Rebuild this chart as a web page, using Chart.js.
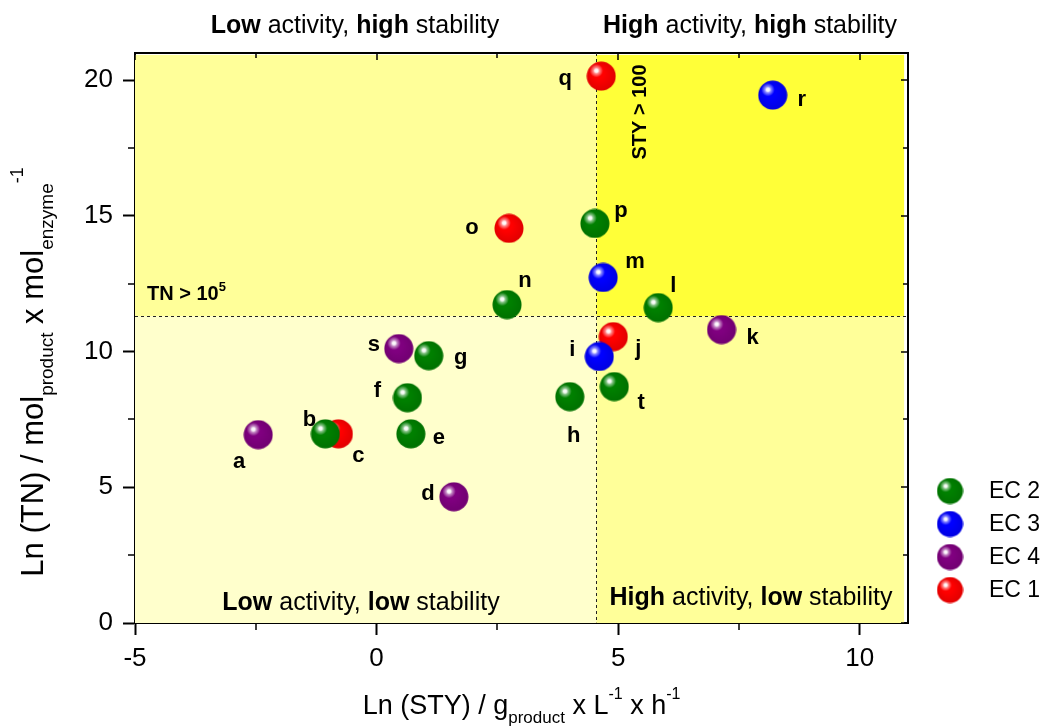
<!DOCTYPE html>
<html>
<head>
<meta charset="utf-8">
<script src="https://cdn.jsdelivr.net/npm/chart.js@4.4.1/dist/chart.umd.min.js"></script>
<style>
    html, body { margin: 0; padding: 0; background: #fff; }
    #wrap { width: 1055px; height: 727px; position: relative; }
</style>
</head>
<body>
<div id="wrap"><canvas id="myChart" width="1055" height="727"></canvas></div>
<script>
// points per enzyme class: letter, Ln(STY), Ln(TN)
const ec2Names = ['b', 'e', 'f', 'g', 'h', 'l', 'n', 'p', 't'];
const ec2X = [-1.06, 0.71, 0.64, 1.08, 4.00, 5.83, 2.70, 4.52, 4.92];
const ec2Y = [6.97, 6.97, 8.30, 9.85, 8.34, 11.62, 11.73, 14.72, 8.71];

const ec3Names = ['i', 'm', 'r'];
const ec3X = [4.61, 4.69, 8.20];
const ec3Y = [9.82, 12.73, 19.45];

const ec4Names = ['a', 'd', 'k', 's'];
const ec4X = [-2.45, 1.60, 7.14, 0.46];
const ec4Y = [6.94, 4.65, 10.81, 10.11];

const ec1Names = ['c', 'j', 'o', 'q'];
const ec1X = [-0.79, 4.90, 2.74, 4.65];
const ec1Y = [6.97, 10.55, 14.54, 20.15];

const seriesNames = ['EC 2', 'EC 3', 'EC 4', 'EC 1'];
const seriesColors = ['#008000', '#0000ff', '#800080', '#ff0000'];

const xTickValues = [-5, 0, 5, 10];
const yTickValues = [0, 5, 10, 15, 20];

// thresholds (ln scale): STY > 100, TN > 10^5
const stySplit = 4.55;
const tnSplit = 11.3;

// where each letter sits relative to its ball (px)
const letterOffset = {
    a: [-19, 27], b: [-16, -14], c: [20, 22], d: [-26, -3], e: [28, 4],
    f: [-30, -7], g: [32, 2], h: [4, 39], i: [-27, -7], j: [25, 12],
    k: [31, 8], l: [15, -22], m: [32, -16], n: [18, -24], o: [-37, 0],
    p: [26, -13], q: [-36, 3], r: [29, 5], s: [-25, -4], t: [27, 16]
};

const FONT = 'Arial, "Liberation Sans", sans-serif';

// shiny ball used as point style
function makeBall(color, d) {
    const c = document.createElement('canvas');
    c.width = d;
    c.height = d;
    const g = c.getContext('2d');
    const r = d / 2;
    g.beginPath();
    g.arc(r, r, r - 0.5, 0, Math.PI * 2);
    g.fillStyle = color;
    g.fill();
    const shade = g.createRadialGradient(r * 0.8, r * 0.8, r * 0.4, r, r, r);
    shade.addColorStop(0, 'rgba(0,0,0,0)');
    shade.addColorStop(1, 'rgba(0,0,0,0.12)');
    g.fillStyle = shade;
    g.fill();
    const hx = r * 0.68, hy = r * 0.64, hr = r * 0.45;
    const hl = g.createRadialGradient(hx, hy, 0, hx, hy, hr);
    hl.addColorStop(0, 'rgba(255,255,255,1)');
    hl.addColorStop(0.25, 'rgba(255,255,255,0.95)');
    hl.addColorStop(0.45, 'rgba(255,255,255,0.55)');
    hl.addColorStop(1, 'rgba(255,255,255,0)');
    g.fillStyle = hl;
    g.beginPath();
    g.arc(hx, hy, hr, 0, Math.PI * 2);
    g.fill();
    return c;
}

function makePoints(names, xs, ys) {
    return xs.map((x, i) => ({ x: x, y: ys[i], name: names[i] }));
}

const seriesPoints = [
    makePoints(ec2Names, ec2X, ec2Y),
    makePoints(ec3Names, ec3X, ec3Y),
    makePoints(ec4Names, ec4X, ec4Y),
    makePoints(ec1Names, ec1X, ec1Y)
];

const datasets = seriesNames.map((name, i) => ({
    label: name,
    data: seriesPoints[i],
    pointStyle: makeBall(seriesColors[i], 30),
    legendBall: makeBall(seriesColors[i], 27),
    pointRadius: 15,
    backgroundColor: seriesColors[i],
    borderColor: seriesColors[i]
}));

// text with bold / sub / sup pieces
function richWidth(ctx, parts) {
    let w = 0;
    parts.forEach(p => { ctx.font = p.font; w += ctx.measureText(p.t).width; });
    return w;
}
function drawRich(ctx, parts, x, y) {
    parts.forEach(p => {
        ctx.font = p.font;
        ctx.fillText(p.t, x, y + (p.dy || 0));
        x += ctx.measureText(p.t).width;
    });
}
function quadLabel(a, b) {
    return [
        { t: a, font: 'bold 25px ' + FONT },
        { t: ' activity, ', font: '25px ' + FONT },
        { t: b, font: 'bold 25px ' + FONT },
        { t: ' stability', font: '25px ' + FONT }
    ];
}

const xTitle = [
    { t: 'Ln (STY) / g', font: '27px ' + FONT },
    { t: 'product', font: '17px ' + FONT, dy: 9 },
    { t: ' x L', font: '27px ' + FONT },
    { t: '-1', font: '16px ' + FONT, dy: -15 },
    { t: ' x h', font: '27px ' + FONT },
    { t: '-1', font: '16px ' + FONT, dy: -15 }
];
const yTitle = [
    { t: 'Ln (TN) / mol', font: '31px ' + FONT },
    { t: 'product', font: '19px ' + FONT, dy: 10 },
    { t: ' x mol', font: '31px ' + FONT },
    { t: 'enzyme', font: '19px ' + FONT, dy: 10 },
    { t: '-1', font: '18px ' + FONT, dy: -20 }
];

const backgroundPlugin = {
    id: 'quadrants',
    beforeDatasetsDraw(chart) {
        const ctx = chart.ctx;
        const xs = chart.scales.x, ys = chart.scales.y;
        const x0 = xs.getPixelForValue(-5), x1 = xs.getPixelForValue(stySplit), x2 = xs.getPixelForValue(10.92);
        const y0 = ys.getPixelForValue(0), y1 = ys.getPixelForValue(tnSplit), y2 = ys.getPixelForValue(20.93);
        ctx.save();
        ctx.fillStyle = '#ffffcc';
        ctx.fillRect(x0, y1, x1 - x0, y0 - y1);
        ctx.fillStyle = '#ffff99';
        ctx.fillRect(x0, y2, x1 - x0, y1 - y2);
        ctx.fillRect(x1, y1, x2 - x1, y0 - y1);
        ctx.fillStyle = '#ffff38';
        ctx.fillRect(x1, y2, x2 - x1, y1 - y2);

        // threshold lines
        const a = chart.chartArea;
        ctx.strokeStyle = '#222';
        ctx.lineWidth = 1;
        ctx.setLineDash([3, 3]);
        ctx.beginPath();
        ctx.moveTo(Math.round(x1) + 0.5, a.top);
        ctx.lineTo(Math.round(x1) + 0.5, a.bottom);
        ctx.moveTo(a.left, Math.round(y1) + 0.5);
        ctx.lineTo(a.right, Math.round(y1) + 0.5);
        ctx.stroke();
        ctx.setLineDash([]);

        // threshold captions
        ctx.fillStyle = '#000';
        ctx.textBaseline = 'alphabetic';
        ctx.textAlign = 'left';
        drawRich(ctx, [
            { t: 'TN > 10', font: 'bold 20px ' + FONT },
            { t: '5', font: 'bold 13px ' + FONT, dy: -9 }
        ], a.left + 12, y1 - 16);
        ctx.save();
        ctx.translate(x1 + 50, a.top + 59);
        ctx.rotate(-Math.PI / 2);
        ctx.font = 'bold 20px ' + FONT;
        ctx.textAlign = 'center';
        ctx.fillText('STY > 100', 0, 0);
        ctx.restore();

        // quadrant captions
        ctx.textAlign = 'left';
        let p = quadLabel('Low', 'low');
        drawRich(ctx, p, 361 - richWidth(ctx, p) / 2, a.bottom - 13);
        p = quadLabel('High', 'low');
        drawRich(ctx, p, 751 - richWidth(ctx, p) / 2, a.bottom - 18);
        ctx.restore();
    },
    afterDraw(chart) {
        const ctx = chart.ctx;
        const a = chart.chartArea;
        const xs = chart.scales.x, ys = chart.scales.y;
        ctx.save();
        ctx.fillStyle = '#000';
        ctx.textBaseline = 'alphabetic';
        ctx.textAlign = 'left';

        // captions above the frame
        let p = quadLabel('Low', 'high');
        drawRich(ctx, p, 355 - richWidth(ctx, p) / 2, a.top - 20);
        p = quadLabel('High', 'high');
        drawRich(ctx, p, 750 - richWidth(ctx, p) / 2, a.top - 20);

        // minor ticks (outside on bottom/left, inside on top/right)
        ctx.strokeStyle = '#000';
        ctx.lineWidth = 1.5;
        ctx.beginPath();
        for (let v = -5; v <= 10.001; v += 2.5) {
            const px = Math.round(xs.getPixelForValue(v));
            const len = (v % 5 === 0) ? 7 : 5;
            ctx.moveTo(px, a.top);
            ctx.lineTo(px, a.top + len);
            if (v % 5 !== 0) {
                ctx.moveTo(px, a.bottom);
                ctx.lineTo(px, a.bottom + 7);
            }
        }
        for (let v = 0; v <= 20.001; v += 2.5) {
            const py = Math.round(ys.getPixelForValue(v));
            const len = (v % 5 === 0) ? 7 : 5;
            ctx.moveTo(a.right, py);
            ctx.lineTo(a.right - len, py);
            if (v % 5 !== 0) {
                ctx.moveTo(a.left, py);
                ctx.lineTo(a.left - 7, py);
            }
        }
        ctx.stroke();

        // point letters
        ctx.font = 'bold 22px ' + FONT;
        ctx.textAlign = 'center';
        ctx.textBaseline = 'middle';
        chart.data.datasets.forEach(ds => {
            ds.data.forEach(pt => {
                const off = letterOffset[pt.name];
                ctx.fillText(pt.name, xs.getPixelForValue(pt.x) + off[0], ys.getPixelForValue(pt.y) + off[1]);
            });
        });

        // axis titles
        ctx.textBaseline = 'alphabetic';
        ctx.textAlign = 'left';
        let w = richWidth(ctx, xTitle);
        drawRich(ctx, xTitle, (a.left + a.right) / 2 - w / 2, 714);
        ctx.save();
        ctx.translate(43, 372);
        ctx.rotate(-Math.PI / 2);
        w = richWidth(ctx, yTitle);
        drawRich(ctx, yTitle, -w / 2, 0);
        ctx.restore();

        // legend
        ctx.font = '23px ' + FONT;
        ctx.textBaseline = 'middle';
        chart.data.datasets.forEach((ds, i) => {
            const cy = 491 + i * 33;
            const img = ds.legendBall;
            ctx.drawImage(img, 950 - img.width / 2, cy - img.height / 2);
            ctx.fillText(ds.label, 989, cy + 1);
        });
        ctx.restore();
    }
};

const ctx = document.getElementById('myChart').getContext('2d');
new Chart(ctx, {
    type: 'scatter',
    data: { datasets: datasets },
    plugins: [backgroundPlugin],
    options: {
        responsive: false,
        animation: false,
        devicePixelRatio: 1,
        layout: { padding: 0 },
        plugins: {
            legend: { display: false },
            tooltip: { enabled: false }
        },
        scales: {
            x: {
                type: 'linear',
                position: 'bottom',
                min: -5,
                max: 11,
                afterBuildTicks: scale => {
                    scale.ticks = xTickValues.map(v => ({ value: v }));
                },
                afterFit: scale => { scale.height = 104; },
                ticks: {
                    color: '#000',
                    font: { family: FONT, size: 26 },
                    padding: 8,
                    maxRotation: 0,
                    callback: v => (v < 0 ? '-' + Math.abs(v) : String(v))
                },
                grid: {
                    drawOnChartArea: false,
                    drawTicks: true,
                    tickLength: 12,
                    tickColor: '#000',
                    tickWidth: 2
                },
                border: { display: true, color: '#000', width: 2 }
            },
            y: {
                type: 'linear',
                position: 'left',
                min: 0,
                max: 21,
                afterBuildTicks: scale => {
                    scale.ticks = yTickValues.map(v => ({ value: v }));
                },
                afterFit: scale => { scale.width = 135; },
                ticks: {
                    color: '#000',
                    font: { family: FONT, size: 26 },
                    padding: 10
                },
                grid: {
                    drawOnChartArea: false,
                    drawTicks: true,
                    tickLength: 12,
                    tickColor: '#000',
                    tickWidth: 2
                },
                border: { display: true, color: '#000', width: 2 }
            },
            x2: {
                type: 'linear',
                position: 'top',
                min: -5,
                max: 11,
                afterFit: scale => { scale.height = 53; },
                ticks: { display: false },
                grid: { drawOnChartArea: false, drawTicks: false },
                border: { display: true, color: '#000', width: 2 }
            },
            y2: {
                type: 'linear',
                position: 'right',
                min: 0,
                max: 21,
                afterFit: scale => { scale.width = 147; },
                ticks: { display: false },
                grid: { drawOnChartArea: false, drawTicks: false },
                border: { display: true, color: '#000', width: 2 }
            }
        }
    }
});
</script>
</body>
</html>
